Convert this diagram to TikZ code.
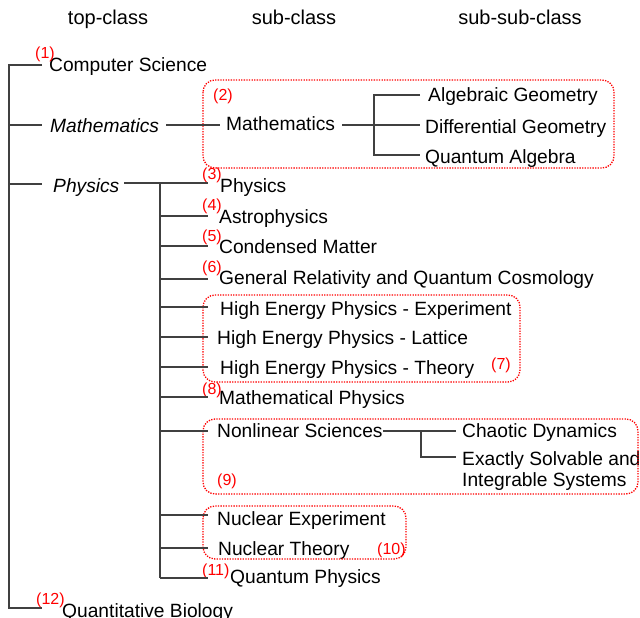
\documentclass[tikz,border=0pt]{standalone}
\usepackage{fontspec}
\setmainfont{Liberation Sans}
\begin{document}
\begin{tikzpicture}[x=1pt,y=-1pt,
  lbl/.style={anchor=base west,inner sep=0pt,font=\fontsize{19.2}{23}\selectfont},
  ilbl/.style={lbl,font=\fontsize{19.2}{23}\selectfont\itshape},
  hdr/.style={anchor=base,inner sep=0pt,font=\fontsize{20}{24}\selectfont},
  num/.style={anchor=base west,inner sep=0pt,text=red,font=\fontsize{16}{18}\selectfont},
  ln/.style={draw=black!75,line width=1.2pt},
  grp/.style={draw=red,line width=1.3pt,dash pattern=on 1.3pt off 1.3pt,rounded corners=12pt}]
\useasboundingbox (0,0) rectangle (640,618);

% headers
\node[hdr] (h1) at (108,25) {top-class};
\node[hdr] (h2) at (294,25) {sub-class};
\node[hdr] (h3) at (520,25) {sub-sub-class};

% top-class
\node[lbl]  (cs)   at (49,72)  {Computer Science};
\node[ilbl] (math) at (50,132) {Mathematics};
\node[ilbl] (phys) at (53,192) {Physics};
\node[lbl]  (qb)   at (62,617) {Quantitative Biology};

% mathematics
\node[lbl] (msub) at (226,130) {Mathematics};
\node[lbl] (ag) at (428,102) {Algebraic Geometry};
\node[lbl] (dg) at (425,133) {Differential Geometry};
\node[lbl] (qa) at (425,163) {Quantum Algebra};

% physics
\node[lbl] (psub)  at (220,192) {Physics};
\node[lbl] (astro) at (219,223) {Astrophysics};
\node[lbl] (cm)    at (219,253) {Condensed Matter};
\node[lbl] (gr)    at (219,284) {General Relativity and Quantum Cosmology};
\node[lbl] (hepe)  at (220,315) {High Energy Physics - Experiment};
\node[lbl] (hepl)  at (217,344) {High Energy Physics - Lattice};
\node[lbl] (hept)  at (220,374) {High Energy Physics - Theory};
\node[lbl] (mp)    at (219,404) {Mathematical Physics};
\node[lbl] (nls)   at (217,437) {Nonlinear Sciences};
\node[lbl] (cd)    at (462,437) {Chaotic Dynamics};
\node[lbl] (es)    at (462,465) {Exactly Solvable and};
\node[lbl] (es2)   at (462,486) {Integrable Systems};
\node[lbl] (ne)    at (217,525) {Nuclear Experiment};
\node[lbl] (nt)    at (218,555) {Nuclear Theory};
\node[lbl] (qp)    at (230,583) {Quantum Physics};

% numbers
\node[num] (n1)  at (35,59)   {(1)};
\node[num] (n2)  at (213,100) {(2)};
\node[num] (n3)  at (202,179) {(3)};
\node[num] (n4)  at (202,210) {(4)};
\node[num] (n5)  at (202,241) {(5)};
\node[num] (n6)  at (202,272) {(6)};
\node[num] (n7)  at (491,369) {(7)};
\node[num] (n8)  at (202,394) {(8)};
\node[num] (n9)  at (217,485) {(9)};
\node[num] (n10) at (377,554) {(10)};
\node[num] (n11) at (202,575) {(11)};
\node[num] (n12) at (36,604)  {(12)};

% group boxes
\draw[grp] (203,80) rectangle (614,168);
\draw[grp] (203,295) rectangle (520,382);
\draw[grp] (203,419) rectangle (638,494);
\draw[grp] (203,506) rectangle (406,559);

% main trunk
\coordinate (rt) at (9,65);
\coordinate (rb) at (9,608);
\coordinate (r2) at (9,125);
\coordinate (r3) at (9,184);
\coordinate (ecs) at (42,65);
\coordinate (emath) at (42,125);
\coordinate (ephys) at (42,184);
\coordinate (eqb) at (42,608);
\draw[ln] (ecs) -- (rt) -- (rb) -- (eqb);
\draw[ln] (r2) -- (emath);
\draw[ln] (r3) -- (ephys);

% mathematics tree
\coordinate (m1) at (166,125);
\coordinate (m2) at (220,125);
\coordinate (m3) at (342,125);
\coordinate (m4) at (420,125);
\coordinate (mt) at (374,95);
\coordinate (mb) at (374,155);
\coordinate (mag) at (420,95);
\coordinate (mqa) at (420,155);
\draw[ln] (m1) -- (m2);
\draw[ln] (m3) -- (m4);
\draw[ln] (mag) -- (mt) -- (mb) -- (mqa);

% physics tree
\coordinate (p1) at (124,183);
\coordinate (p2) at (208,183);
\coordinate (pt) at (160,183);
\coordinate (pb) at (160,578);
\draw[ln] (p1) -- (p2);
\draw[ln] (pt) -- (pb);
\foreach \y/\n in {216/a,246/b,279/c,307/d,337/e,367/f,397/g,431/h,515/i,548/j,578/k}{
  \coordinate (ps\n) at (160,\y);
  \coordinate (pe\n) at (208,\y);
  \draw[ln] (ps\n) -- (pe\n);
}

% nonlinear tree
\coordinate (nl1) at (383,431);
\coordinate (nl2) at (456,431);
\coordinate (nlt) at (421,431);
\coordinate (nlb) at (421,457);
\coordinate (nl3) at (456,457);
\draw[ln] (nl1) -- (nl2);
\draw[ln] (nlt) -- (nlb) -- (nl3);
\end{tikzpicture}
\end{document}
